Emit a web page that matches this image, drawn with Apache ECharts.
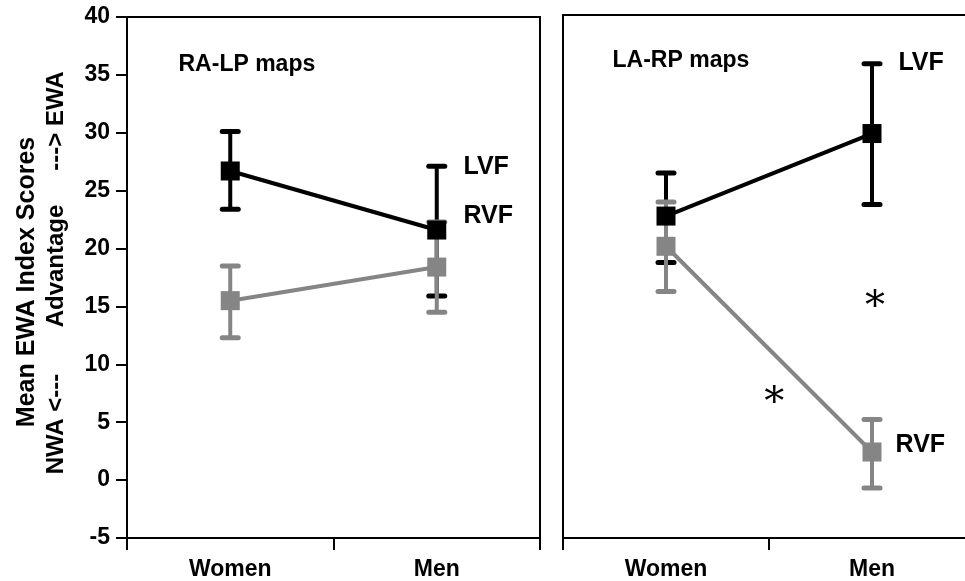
<!DOCTYPE html>
<html>
<head>
<meta charset="utf-8">
<script src="https://cdn.jsdelivr.net/npm/echarts@6/dist/echarts.min.js"></script>
<style>
html,body{margin:0;padding:0;background:#fff;}
#chart{width:965px;height:581px;}
</style>
</head>
<body>
<div id="chart"></div>
<script>
// ---- data ----
const categories = ['Women', 'Men'];
const yTicks = [-5, 0, 5, 10, 15, 20, 25, 30, 35, 40];

// RA-LP maps (left panel)
const raLpLVF     = [26.7, 21.6];
const raLpLVFLow  = [23.4, 15.9];
const raLpLVFHigh = [30.1, 27.1];
const raLpRVF     = [15.5, 18.4];
const raLpRVFLow  = [12.3, 14.5];
const raLpRVFHigh = [18.5, 22.3];

// LA-RP maps (right panel)
const laRpLVF     = [22.7, 29.8];
const laRpLVFLow  = [18.7, 23.7];
const laRpLVFHigh = [26.4, 35.8];
const laRpRVF     = [20.1, 2.4];
const laRpRVFLow  = [16.2, -0.7];
const laRpRVFHigh = [23.9, 5.2];

const panelTitles = ['RA-LP maps', 'LA-RP maps'];
const seriesNames = ['LVF', 'RVF'];
const yTitleLine1 = 'Mean EWA Index Scores';
const yTitleLine2 = ['NWA <---', 'Advantage', '---> EWA'];

// ---- styling ----
const FONT = '"Liberation Sans", Arial, sans-serif';
const BLACK = '#000000';
const GRAY = '#858585';
const FS = 23;

function errData(lo, hi) {
  return categories.map((c, i) => [i, lo[i], hi[i]]);
}
function errSeries(lo, hi, color, xi, yi) {
  return {
    type: 'custom',
    xAxisIndex: xi, yAxisIndex: yi,
    silent: true,
    data: errData(lo, hi),
    renderItem: function (params, api) {
      const x = api.value(0);
      const pLo = api.coord([x, api.value(1)]);
      const pHi = api.coord([x, api.value(2)]);
      const w = 8;
      const st = { stroke: color, lineWidth: 4 };
      const cap = { stroke: color, lineWidth: 5, lineCap: 'round' };
      return {
        type: 'group',
        children: [
          { type: 'line', shape: { x1: pLo[0], y1: pLo[1], x2: pHi[0], y2: pHi[1] }, style: st },
          { type: 'line', shape: { x1: pHi[0] - w, y1: pHi[1], x2: pHi[0] + w, y2: pHi[1] }, style: cap },
          { type: 'line', shape: { x1: pLo[0] - w, y1: pLo[1], x2: pLo[0] + w, y2: pLo[1] }, style: cap }
        ]
      };
    }
  };
}
function lineSeries(name, vals, color, xi, yi) {
  return {
    type: 'line', name: name,
    xAxisIndex: xi, yAxisIndex: yi,
    data: vals,
    symbol: 'rect', symbolSize: 19,
    lineStyle: { color: color, width: 4 },
    itemStyle: { color: color, opacity: 1 },
    silent: true,
    animation: false
  };
}
function textSeries(items, xi, yi, font, align) {
  return {
    type: 'scatter',
    xAxisIndex: xi, yAxisIndex: yi,
    symbol: 'circle',
    symbolSize: 1,
    silent: true,
    itemStyle: { color: 'rgba(0,0,0,0)', opacity: 1 },
    data: items,
    label: {
      show: true,
      position: align === 'center' ? 'inside' : 'right',
      distance: 0,
      formatter: p => p.data[2],
      color: BLACK,
      opacity: 1,
      textBorderWidth: 0,
      fontFamily: font.family,
      fontSize: font.size,
      fontWeight: font.weight,
      align: align,
      verticalAlign: 'middle'
    }
  };
}

const gridsLayout = [
  { left: 127, top: 17, width: 413, height: 521 },
  { left: 563, top: 15, width: 412, height: 523 }
];

const catAxis = (gi) => ({
  type: 'category', gridIndex: gi, data: categories,
  boundaryGap: true,
  axisLine: { show: true, onZero: false, lineStyle: { color: BLACK, width: 2 } },
  axisTick: { show: true, length: 12, lineStyle: { color: BLACK, width: 2 } },
  axisLabel: { color: BLACK, fontFamily: FONT, fontWeight: 'bold', fontSize: FS, margin: 20 },
  splitLine: { show: false }
});
const valAxisHidden = (gi) => ({ type: 'value', gridIndex: gi, min: -0.5, max: 1.5, show: false,
  axisLine: { onZero: false } });
const yAxis = (gi, labels) => ({
  type: 'value', gridIndex: gi,
  min: yTicks[0], max: yTicks[yTicks.length - 1], interval: 5,
  axisLine: { show: true, onZero: false, lineStyle: { color: BLACK, width: 2 } },
  axisTick: { show: labels, length: 11, lineStyle: { color: BLACK, width: 2 } },
  axisLabel: { show: labels, color: BLACK, fontFamily: FONT, fontWeight: 'bold', fontSize: FS, margin: 17 },
  splitLine: { show: false }
});

const labelFont = { family: FONT, size: 25, weight: 'bold' };
const titleFont = { family: FONT, size: 23, weight: 'bold' };
const starFont = { family: '"DejaVu Serif", serif', size: 40, weight: 'normal' };

const option = {
  animation: false,
  backgroundColor: '#ffffff',
  grid: gridsLayout.map(g => Object.assign({
    show: true, borderColor: BLACK, borderWidth: 2, backgroundColor: 'transparent',
    containLabel: false, outerBoundsMode: 'none'
  }, g)),
  xAxis: [catAxis(0), catAxis(1), valAxisHidden(0), valAxisHidden(1)],
  yAxis: [yAxis(0, true), yAxis(1, false)],
  series: [
    errSeries(raLpLVFLow, raLpLVFHigh, BLACK, 0, 0),
    errSeries(raLpRVFLow, raLpRVFHigh, GRAY, 0, 0),
    lineSeries('RVF', raLpRVF, GRAY, 0, 0),
    lineSeries('LVF', raLpLVF, BLACK, 0, 0),
    errSeries(laRpLVFLow, laRpLVFHigh, BLACK, 1, 1),
    errSeries(laRpRVFLow, laRpRVFHigh, GRAY, 1, 1),
    lineSeries('RVF', laRpRVF, GRAY, 1, 1),
    lineSeries('LVF', laRpLVF, BLACK, 1, 1),
    textSeries([[1.127, 27.0, seriesNames[0]], [1.127, 22.8, seriesNames[1]]], 2, 0, labelFont, 'left'),
    textSeries([[1.126, 35.85, seriesNames[0]], [1.112, 3.0, seriesNames[1]]], 3, 1, labelFont, 'left'),
    textSeries([[-0.253, 35.85, panelTitles[0]]], 2, 0, titleFont, 'left'),
    textSeries([[-0.262, 36.1, panelTitles[1]]], 3, 1, titleFont, 'left'),
    textSeries([[1.015, 14.85, '*'], [0.525, 6.55, '*']], 3, 1, starFont, 'center')
  ],
  graphic: [
    { type: 'text', x: 27, y: 282, rotation: Math.PI / 2, silent: true,
      style: { text: yTitleLine1, font: 'bold 25px ' + FONT, fill: BLACK, align: 'center', verticalAlign: 'middle', textAlign: 'center', textVerticalAlign: 'middle' } },
    { type: 'text', x: 56, y: 424, rotation: Math.PI / 2, silent: true,
      style: { text: yTitleLine2[0], font: 'bold 24px ' + FONT, fill: BLACK, align: 'center', verticalAlign: 'middle', textAlign: 'center', textVerticalAlign: 'middle' } },
    { type: 'text', x: 56, y: 266, rotation: Math.PI / 2, silent: true,
      style: { text: yTitleLine2[1], font: 'bold 24px ' + FONT, fill: BLACK, align: 'center', verticalAlign: 'middle', textAlign: 'center', textVerticalAlign: 'middle' } },
    { type: 'text', x: 56, y: 121, rotation: Math.PI / 2, silent: true,
      style: { text: yTitleLine2[2], font: 'bold 24px ' + FONT, fill: BLACK, align: 'center', verticalAlign: 'middle', textAlign: 'center', textVerticalAlign: 'middle' } }
  ]
};

const chart = echarts.init(document.getElementById('chart'), null, { renderer: 'canvas' });
chart.setOption(option);
</script>
</body>
</html>
